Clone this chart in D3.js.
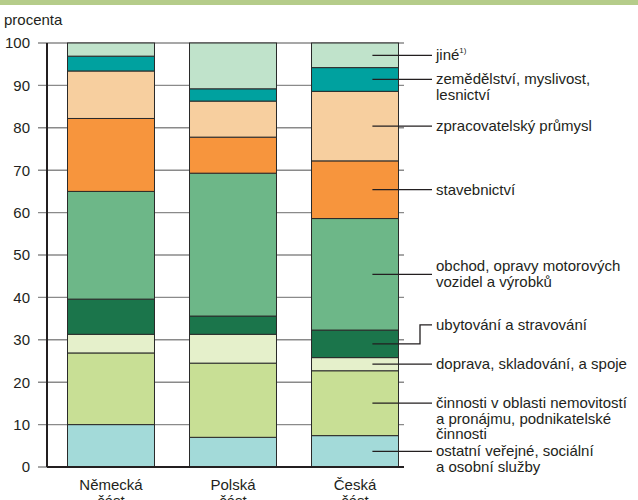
<!DOCTYPE html>
<html>
<head>
<meta charset="utf-8">
<script src="https://cdn.jsdelivr.net/npm/d3@7"></script>
<style>
body { margin: 0; background: #fff; }
svg text { font-family: "Liberation Sans", Arial, sans-serif; fill: #231f20; }
</style>
</head>
<body>
<div id="chart"></div>
<script>
// regions (bars)
var regions = ["Německá\nčást", "Polská\nčást", "Česká\nčást"];

// sectors, bottom to top
var sectors = ["ostatni", "cinnosti", "doprava", "ubytovani", "obchod", "stavebnictvi", "zpracovatelsky", "zemedelstvi", "jine"];

var sectorLabels = [
    "ostatní veřejné, sociální\na osobní služby",
    "činnosti v oblasti nemovitostí\na pronájmu, podnikatelské\nčinnosti",
    "doprava, skladování, a spoje",
    "ubytování a stravování",
    "obchod, opravy motorových\nvozidel a výrobků",
    "stavebnictví",
    "zpracovatelský průmysl",
    "zemědělství, myslivost,\nlesnictví",
    "jiné"
];

var sectorColors = ["#a3dad9", "#c8df95", "#e5f0cb", "#1b754b", "#6db788", "#f7953d", "#f7cf9f", "#00a19f", "#c0e3cb"];

// shares in percent, same order as sectors
var nemecka = [10.0, 16.9, 4.4, 8.3, 25.4, 17.2, 11.2, 3.5, 3.1];
var polska  = [7.0, 17.5, 6.8, 4.3, 33.7, 8.5, 8.5, 2.9, 10.8];
var ceska   = [7.4, 15.3, 3.1, 6.5, 26.3, 13.6, 16.4, 5.6, 5.8];

var yTicks = [0, 10, 20, 30, 40, 50, 60, 70, 80, 90, 100];

var svgWidth = 638;
var svgHeight = 500;
var margin = {t: 43, r: 234, b: 33, l: 47};
var width = svgWidth - margin.l - margin.r;
var height = svgHeight - margin.t - margin.b;

var svg = d3.select("#chart")
    .append("svg")
    .attr("width", svgWidth)
    .attr("height", svgHeight);

// green band on top
svg.append("rect")
    .attr("x", 0).attr("y", 0)
    .attr("width", svgWidth).attr("height", 5)
    .attr("fill", "#b5cc8a");

svg.append("text")
    .attr("x", 4)
    .attr("y", 25)
    .attr("font-size", "15px")
    .text("procenta");

var chartGroup = svg.append("g")
    .attr("transform", `translate(${margin.l}, ${margin.t})`);

var table = regions.map(function(r, i) {
    var vals = [nemecka, polska, ceska][i];
    var row = {region: r};
    sectors.forEach(function(s, j) { row[s] = vals[j]; });
    return row;
});

var stacked = d3.stack().keys(sectors)(table);

var xScale = d3.scaleBand()
    .domain(regions)
    .range([20.5, 351.5])
    .paddingInner(0.287)
    .paddingOuter(0);

var yScale = d3.scaleLinear()
    .domain([0, 100])
    .range([height, 0]);

// gridlines + left ticks
chartGroup.append("g")
    .selectAll("line")
    .data(yTicks)
    .enter()
    .append("line")
    .attr("x1", -9)
    .attr("x2", 357)
    .attr("y1", d => yScale(d))
    .attr("y2", d => yScale(d))
    .attr("stroke", "#8a8a8a")
    .attr("stroke-width", 1.4);

var leftAxis = d3.axisLeft(yScale).tickValues(yTicks).tickSize(0).tickPadding(17);
var yAxisG = chartGroup.append("g").call(leftAxis);
yAxisG.select(".domain").remove();
yAxisG.selectAll("text")
    .attr("font-size", "15px")
    .attr("font-family", "Liberation Sans, Arial, sans-serif")
    .attr("fill", "#231f20");

// bars
chartGroup.selectAll(".layer")
    .data(stacked)
    .enter()
    .append("g")
    .attr("class", "layer")
    .attr("fill", (d, i) => sectorColors[i])
    .selectAll("rect")
    .data(d => d)
    .enter()
    .append("rect")
    .attr("x", d => xScale(d.data.region))
    .attr("y", d => yScale(d[1]))
    .attr("width", xScale.bandwidth())
    .attr("height", d => yScale(d[0]) - yScale(d[1]))
    .attr("stroke", "#2a2a2a")
    .attr("stroke-width", 1);

// axes lines
chartGroup.append("line")
    .attr("x1", 0).attr("x2", 0)
    .attr("y1", yScale(100)).attr("y2", yScale(0))
    .attr("stroke", "#231f20").attr("stroke-width", 2);

chartGroup.append("line")
    .attr("x1", 0).attr("x2", 357)
    .attr("y1", yScale(0)).attr("y2", yScale(0))
    .attr("stroke", "#231f20").attr("stroke-width", 2);

// x labels (second line runs off the bottom edge, as in the original)
chartGroup.selectAll(".xlab")
    .data(regions)
    .enter()
    .append("text")
    .attr("class", "xlab")
    .attr("text-anchor", "middle")
    .attr("font-size", "15px")
    .attr("transform", d => `translate(${xScale(d) + xScale.bandwidth() / 2}, ${height + 23})`)
    .selectAll("tspan")
    .data(d => d.split("\n"))
    .enter()
    .append("tspan")
    .attr("x", 0)
    .attr("dy", (d, i) => i === 0 ? 0 : 16)
    .text(d => d);

// leader lines from the Czech bar
var lastBar = stacked.map(s => s[2]);
var xStart = xScale(regions[2]) + xScale.bandwidth() * 0.7;
var xEnd = 385;
var textX = 389;

lastBar.forEach(function(seg, i) {
    var yMid = yScale((seg[0] + seg[1]) / 2);
    var lines = sectorLabels[i].split("\n");
    var yText = yMid;
    var path;
    if (sectors[i] === "ubytovani") {
        yText = yMid - 19;
        path = `M${xStart},${yMid}H${xEnd - 12}V${yText}H${xEnd}`;
    } else {
        path = `M${xStart},${yMid}H${xEnd}`;
    }
    chartGroup.append("path")
        .attr("d", path)
        .attr("fill", "none")
        .attr("stroke", "#231f20")
        .attr("stroke-width", 1.3);

    var firstY = yText;
    if (sectors[i] === "obchod") firstY = yMid - 8;

    var t = chartGroup.append("text")
        .attr("x", textX)
        .attr("y", firstY + 5)
        .attr("font-size", "15px");
    lines.forEach(function(line, k) {
        t.append("tspan")
            .attr("x", textX)
            .attr("dy", k === 0 ? 0 : 15.5)
            .text(line);
    });
    if (sectors[i] === "jine") {
        t.select("tspan").append("tspan")
            .attr("font-size", "8px")
            .attr("dy", -7)
            .text("1)");
    }
});
</script>
</body>
</html>
